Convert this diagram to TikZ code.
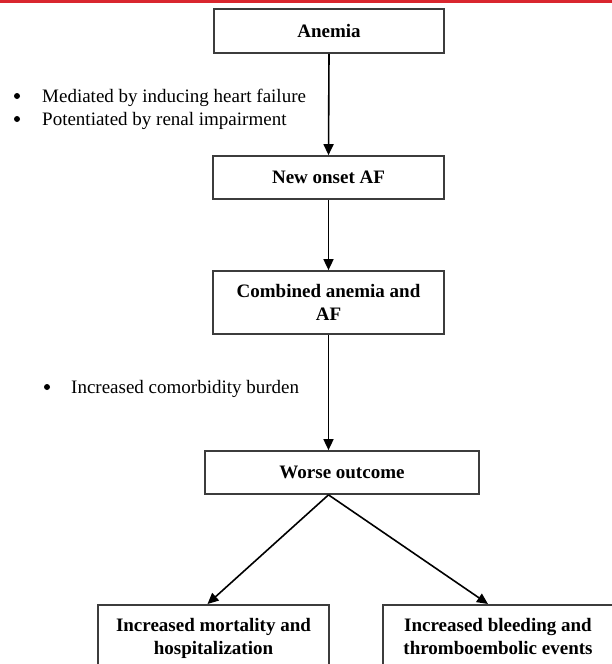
\documentclass[tikz,border=0pt]{standalone}
\usepackage{fontspec}
\setmainfont{Liberation Serif}
\usetikzlibrary{arrows.meta,calc}
\definecolor{topred}{RGB}{217,38,46}
\definecolor{boxline}{RGB}{60,60,60}
\begin{document}
\begin{tikzpicture}[x=1pt,y=-1pt,
  box/.style={draw=boxline,line width=1.7pt,align=center,inner sep=0pt,
    font=\bfseries\fontsize{19}{23}\selectfont},
  lowbox/.style={box,anchor=north,inner ysep=13pt,minimum width=231pt},
  arr/.style={line width=1.6pt,-{Triangle[length=11pt,width=10pt]}},
  txt/.style={anchor=base west,inner sep=0pt,font=\fontsize{19}{23}\selectfont},
  dot/.style={circle,fill=black,inner sep=0pt,minimum size=6pt}]
\clip (0,0) rectangle (612,664);
\fill[topred] (0,0) rectangle (612,2.8);
% boxes
\node[box,minimum width=230pt,minimum height=44pt] (anemia) at (329,31) {Anemia};
\node[box,minimum width=231pt,minimum height=43pt] (onset) at (328.5,177.5) {New onset AF};
\node[box,minimum width=231pt,minimum height=63pt] (comb) at (328.5,302.5) {Combined anemia and\\AF};
\node[box,minimum width=274pt,minimum height=43pt] (worse) at (342,472.5) {Worse outcome};
\node[lowbox] (mort) at (213.5,604) {Increased mortality and\\hospitalization};
\node[lowbox,minimum width=230pt] (bleed) at (498,604) {Increased bleeding and\\thromboembolic events};
% bullet texts
\node[txt] (b1) at (42,102) {Mediated by inducing heart failure};
\node[txt] (b2) at (42,125) {Potentiated by renal impairment};
\node[txt] (b3) at (71,393) {Increased comorbidity burden};
\node[dot] (d1) at (17,96) {};
\node[dot] (d2) at (17,119) {};
\node[dot] (d3) at (47,387) {};
% connectors
\coordinate (split) at (worse.south -| comb.south);
\draw[arr] (anemia.south) -- (onset.north);
\draw[arr] (onset.south) -- (comb.north);
\draw[arr] (comb.south) -- (comb.south |- worse.north);
\draw[arr] (split) -- ([xshift=-6pt]mort.north);
\draw[arr] (split) -- ([xshift=-10pt]bleed.north);
\end{tikzpicture}
\end{document}
